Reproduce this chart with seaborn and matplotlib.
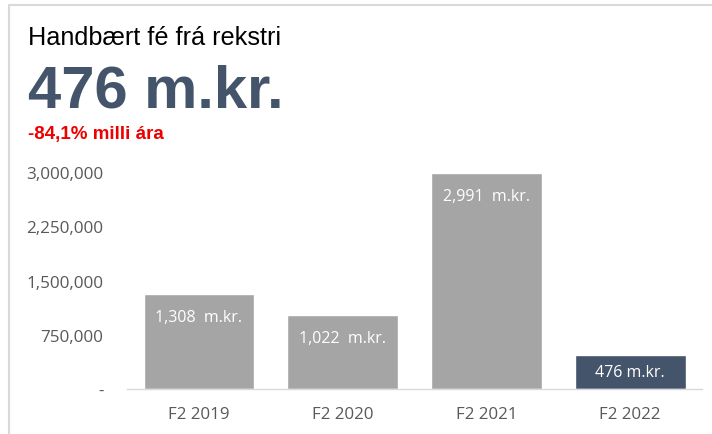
import matplotlib
matplotlib.use("Agg")
import matplotlib.pyplot as plt
import matplotlib.ticker as mticker
import seaborn as sns
import pandas as pd

# data (thousand kr.)
periods = ["F2 2019", "F2 2020", "F2 2021", "F2 2022"]
values = [1308000, 1022000, 2991000, 476000]
bar_labels = ["1,308  m.kr.", "1,022  m.kr.", "2,991  m.kr.", "476 m.kr."]
yticks = [0, 750000, 1500000, 2250000, 3000000]
headline = "476 m.kr."
subtitle = "Handbært fé frá rekstri"
change = "-84,1% milli ára"

gray = "#A5A5A5"
navy = "#44546A"
colors = [gray, gray, gray, navy]

sns.set_style("white")
plt.rcParams["font.family"] = ["Open Sans", "DejaVu Sans"]

df = pd.DataFrame({"period": periods, "value": values})

fig = plt.figure(figsize=(7.12, 4.35), dpi=100)
ax = fig.add_axes([0.1784, 0.1034, 0.8076, 0.4989])

sns.barplot(data=df, x="period", y="value", hue="period", palette=colors,
            width=0.77, legend=False, ax=ax, saturation=1)

ax.set_ylim(0, 3000000)
ax.set_yticks(yticks)
ax.yaxis.set_major_formatter(mticker.FuncFormatter(lambda v, p: "-" if v == 0 else f"{v:,.0f}"))
ax.set_xlabel("")
ax.set_ylabel("")
for s in ["top", "right", "left"]:
    ax.spines[s].set_visible(False)
ax.spines["bottom"].set_color("#D9D9D9")
ax.spines["bottom"].set_linewidth(1)
ax.tick_params(axis="both", length=0, labelcolor="#595959")
ax.tick_params(axis="y", pad=17, labelsize=12.3)
ax.tick_params(axis="x", pad=12, labelsize=12.2)

# labels inside the bars
for i, (v, lab) in enumerate(zip(values, bar_labels)):
    y = max(v - 318000, v / 2)
    ax.text(i, y, lab, ha="center", va="center", color="white", fontsize=11.5)

# header texts
fig.text(28 / 712, 1 - 45 / 435, subtitle, fontsize=18.2, color="black",
         family=["Liberation Sans", "DejaVu Sans"], va="baseline")
fig.text(28 / 712, 1 - 108 / 435, headline, fontsize=43, color=navy, fontweight="bold",
         family=["Liberation Sans", "DejaVu Sans"], va="baseline")
fig.text(28 / 712, 1 - 139 / 435, change, fontsize=13.5, color="#EE0000", fontweight="bold",
         family=["Liberation Sans", "DejaVu Sans"], va="baseline")

# card border (top and left edge visible)
fig.add_artist(plt.Line2D([9 / 712, 1.0], [1 - 6 / 435, 1 - 6 / 435], color="#D9D9D9", lw=1.5,
                          transform=fig.transFigure))
fig.add_artist(plt.Line2D([9 / 712, 9 / 712], [0, 1 - 6 / 435], color="#D9D9D9", lw=1.5,
                          transform=fig.transFigure))

fig.savefig("out.png", dpi=100)
